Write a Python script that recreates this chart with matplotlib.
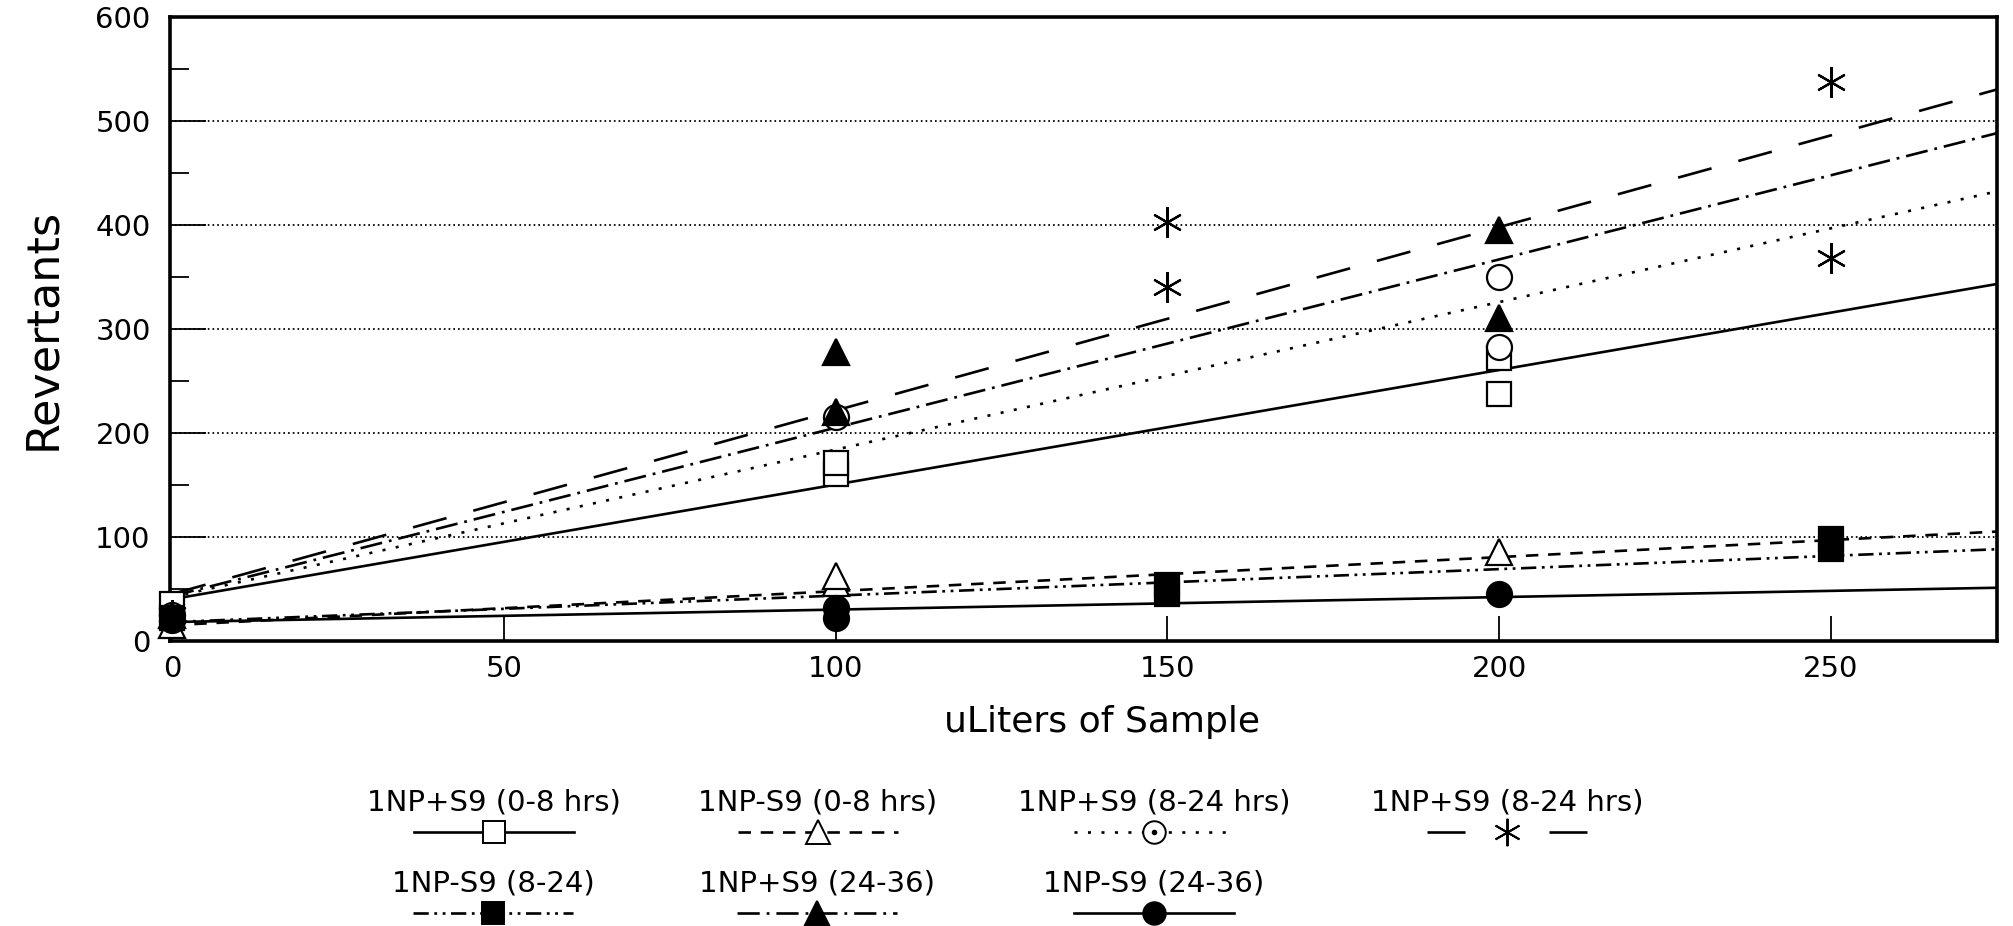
import matplotlib
matplotlib.use("Agg")
import matplotlib.pyplot as plt
from matplotlib.lines import Line2D
import numpy as np

plt.rcParams.update({"font.family": ["DejaVu Sans"], "lines.scale_dashes": False})

# ---- data ----
labels = ["1NP+S9 (0-8 hrs)", "1NP-S9 (0-8 hrs)", "1NP+S9 (8-24 hrs)", "1NP+S9 (8-24 hrs)",
          "1NP-S9 (8-24)", "1NP+S9 (24-36)", "1NP-S9 (24-36)"]

sq_open_x = [0, 100, 100, 200, 200];   sq_open_y = [35, 160, 171, 237, 272]
tri_open_x = [0, 100, 100, 200];       tri_open_y = [15, 56, 62, 85]
circ_open_x = [0, 100, 200, 200];      circ_open_y = [25, 215, 282, 350]
star_x = [0, 150, 150, 250, 250];      star_y = [25, 340, 403, 368, 537]
sq_fill_x = [0, 150, 150, 250, 250];   sq_fill_y = [22, 45, 54, 88, 98]
tri_fill_x = [0, 100, 100, 200, 200];  tri_fill_y = [25, 220, 278, 310, 395]
circ_fill_x = [0, 100, 100, 200];      circ_fill_y = [20, 22, 32, 45]

# fitted lines: value at x=0 and at x=275 (right edge)
fit_x = [0, 275]
fit_sq_open = [40, 343]
fit_tri_open = [15, 105]
fit_circ_open = [42, 432]
fit_star = [45, 530]
fit_sq_fill = [18, 88]
fit_tri_fill = [43, 488]
fit_circ_fill = [18, 51]

xs = [sq_open_x, tri_open_x, circ_open_x, star_x, sq_fill_x, tri_fill_x, circ_fill_x]
ys = [sq_open_y, tri_open_y, circ_open_y, star_y, sq_fill_y, tri_fill_y, circ_fill_y]
fits = [fit_sq_open, fit_tri_open, fit_circ_open, fit_star, fit_sq_fill, fit_tri_fill, fit_circ_fill]

# ---- styles ----
LW = 1.9
styles = [
    dict(ls="-", marker="s", mfc="white", ms=17),
    dict(ls=(0, (9, 7)), marker="^", mfc="white", ms=19),
    dict(ls=(0, (2.2, 7.5)), marker="o", mfc="white", ms=18),
    dict(ls=(0, (25, 20)), marker=(6, 2, 0), mfc="black", ms=22),
    dict(ls=(0, (11, 4, 2, 4, 2, 4)), marker="s", mfc="black", ms=17),
    dict(ls=(0, (16, 5, 2, 5)), marker="^", mfc="black", ms=19),
    dict(ls="-", marker="o", mfc="black", ms=18),
]

fig = plt.figure(figsize=(20.13, 9.26), dpi=100)
ax = fig.add_axes([0.0845, 0.308, 0.9075, 0.674])

for x, y, f, st in zip(xs, ys, fits, styles):
    ax.plot(fit_x, f, color="black", lw=LW, ls=st["ls"], zorder=3)
    ax.plot(x, y, ls="none", marker=st["marker"], ms=st["ms"], mfc=st["mfc"],
            mec="black", mew=1.6, zorder=4, clip_on=False)

ax.set_xlim(-0.3, 275)
ax.set_ylim(0, 600)
ax.set_xticks([0, 50, 100, 150, 200, 250])
ax.set_yticks([0, 100, 200, 300, 400, 500, 600])
ax.set_yticks([50, 150, 250, 350, 450, 550], minor=True)
ax.tick_params(axis="x", which="major", direction="in", length=18, width=1.3, labelsize=21, pad=10)
ax.tick_params(axis="y", which="major", direction="in", length=26, width=1.3, labelsize=21, pad=14)
ax.tick_params(axis="y", which="minor", direction="in", length=14, width=1.3)
for s in ax.spines.values():
    s.set_linewidth(2.6)
for v in [100, 200, 300, 400, 500]:
    ax.axhline(v, color="black", lw=1.3, ls=(0, (1.2, 2.2)), zorder=1)
ax.set_ylabel("Revertants", fontsize=32)
ax.yaxis.set_label_coords(-0.058, 0.5)
ax.set_xlabel("uLiters of Sample", fontsize=26)
ax.xaxis.set_label_coords(0.51, -0.103)

# ---- legend below the plot: label text above a line sample ----
lg = fig.add_axes([0, 0, 1, 0.16])
lg.set_xlim(0, 2013)
lg.set_ylim(0, 148)
lg.axis("off")
leg_cx = [494, 818, 1154, 1507, 493, 817, 1154]
leg_text_y = [123, 123, 123, 123, 42, 42, 42]
leg_line_y = [94, 94, 94, 94, 13, 13, 13]
leg_half = 80
leg_ls = [st["ls"] for st in styles]
leg_ls[3] = (0, (27.4, 60.4))
for i, (lab, st) in enumerate(zip(labels, styles)):
    cx = leg_cx[i]
    lg.text(cx, leg_text_y[i], lab, ha="center", va="center", fontsize=21)
    lg.add_line(Line2D([cx - leg_half, cx + leg_half], [leg_line_y[i]] * 2,
                       color="black", lw=LW, ls=leg_ls[i]))
    lg.plot([cx], [leg_line_y[i]], ls="none", marker=st["marker"], ms=st["ms"] * 0.9,
            mfc=st["mfc"], mec="black", mew=1.4, clip_on=False)
# small centre dot inside the open-circle legend symbol
lg.plot([leg_cx[2]], [leg_line_y[2]], ls="none", marker="o", ms=3, color="black")

fig.savefig("out.png", dpi=100)
